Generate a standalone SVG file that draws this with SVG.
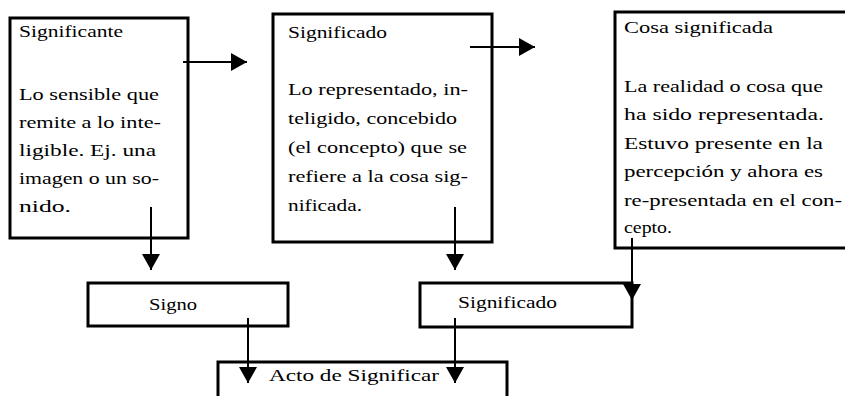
<svg xmlns="http://www.w3.org/2000/svg" width="845" height="396" viewBox="0 0 845 396">
<style>
.box{fill:#fff;stroke:#000;stroke-width:3}
.t{font-family:"Liberation Serif","Times New Roman",serif;font-size:17px;fill:#000}
.c{fill:none;stroke:#000;stroke-width:2}
</style>
<defs>
<marker id="ah" markerUnits="userSpaceOnUse" markerWidth="17" markerHeight="18" refX="16" refY="9" orient="auto">
<path d="M0,0 L16,9 L0,18 z" fill="#000"/>
</marker>
</defs>
<rect width="845" height="396" fill="#fff"/>
<g id="significante">
<rect class="box" x="10" y="18" width="178" height="220"/>
<text class="t" x="19" y="37" textLength="104" lengthAdjust="spacingAndGlyphs">Significante</text>
<text class="t" x="19" y="100" textLength="140" lengthAdjust="spacingAndGlyphs">Lo sensible que</text>
<text class="t" x="19" y="128" textLength="142" lengthAdjust="spacingAndGlyphs">remite a lo inte-</text>
<text class="t" x="19" y="156" textLength="137" lengthAdjust="spacingAndGlyphs">ligible. Ej. una</text>
<text class="t" x="19" y="184" textLength="140" lengthAdjust="spacingAndGlyphs">imagen o un so-</text>
<text class="t" x="19" y="212" textLength="52" lengthAdjust="spacingAndGlyphs">nido.</text>
</g>
<g id="significado">
<rect class="box" x="273" y="14" width="219" height="228"/>
<text class="t" x="288" y="38" textLength="99" lengthAdjust="spacingAndGlyphs">Significado</text>
<text class="t" x="288" y="95" textLength="180" lengthAdjust="spacingAndGlyphs">Lo representado, in-</text>
<text class="t" x="288" y="124" textLength="169" lengthAdjust="spacingAndGlyphs">teligido, concebido</text>
<text class="t" x="288" y="153" textLength="179" lengthAdjust="spacingAndGlyphs">(el concepto) que se</text>
<text class="t" x="288" y="182" textLength="180" lengthAdjust="spacingAndGlyphs">refiere a la cosa sig-</text>
<text class="t" x="288" y="211" textLength="74" lengthAdjust="spacingAndGlyphs">nificada.</text>
</g>
<g id="cosa">
<rect class="box" x="615" y="12" width="260" height="236"/>
<text class="t" x="624" y="33" textLength="149" lengthAdjust="spacingAndGlyphs">Cosa significada</text>
<text class="t" x="624" y="92" textLength="199" lengthAdjust="spacingAndGlyphs">La realidad o cosa que</text>
<text class="t" x="624" y="120" textLength="200" lengthAdjust="spacingAndGlyphs">ha sido representada.</text>
<text class="t" x="624" y="149" textLength="199" lengthAdjust="spacingAndGlyphs">Estuvo presente en la</text>
<text class="t" x="624" y="177" textLength="199" lengthAdjust="spacingAndGlyphs">percepción y ahora es</text>
<text class="t" x="624" y="206" textLength="218" lengthAdjust="spacingAndGlyphs">re-presentada en el con-</text>
<text class="t" x="624" y="233" textLength="48" lengthAdjust="spacingAndGlyphs">cepto.</text>
</g>
<g id="signo">
<rect class="box" x="88" y="283" width="200" height="43"/>
<text class="t" x="149" y="310" textLength="48" lengthAdjust="spacingAndGlyphs">Signo</text>
</g>
<g id="significado2">
<rect class="box" x="420" y="283" width="212" height="44"/>
<text class="t" x="458" y="308" textLength="99" lengthAdjust="spacingAndGlyphs">Significado</text>
</g>
<g id="acto">
<rect class="box" x="218" y="362" width="289" height="60"/>
<text class="t" x="269" y="381" textLength="170" lengthAdjust="spacingAndGlyphs">Acto  de  Significar</text>
</g>
<g id="connectors">
<line class="c" x1="183" y1="62" x2="247" y2="62" marker-end="url(#ah)"/>
<line class="c" x1="470" y1="47" x2="535" y2="47" marker-end="url(#ah)"/>
<line class="c" x1="151" y1="207" x2="151" y2="270" marker-end="url(#ah)"/>
<line class="c" x1="455" y1="207" x2="455" y2="270" marker-end="url(#ah)"/>
<line class="c" x1="632" y1="238" x2="632" y2="300" marker-end="url(#ah)"/>
<line class="c" x1="248" y1="318" x2="248" y2="383" marker-end="url(#ah)"/>
<line class="c" x1="455" y1="318" x2="455" y2="383" marker-end="url(#ah)"/>
</g>
</svg>
